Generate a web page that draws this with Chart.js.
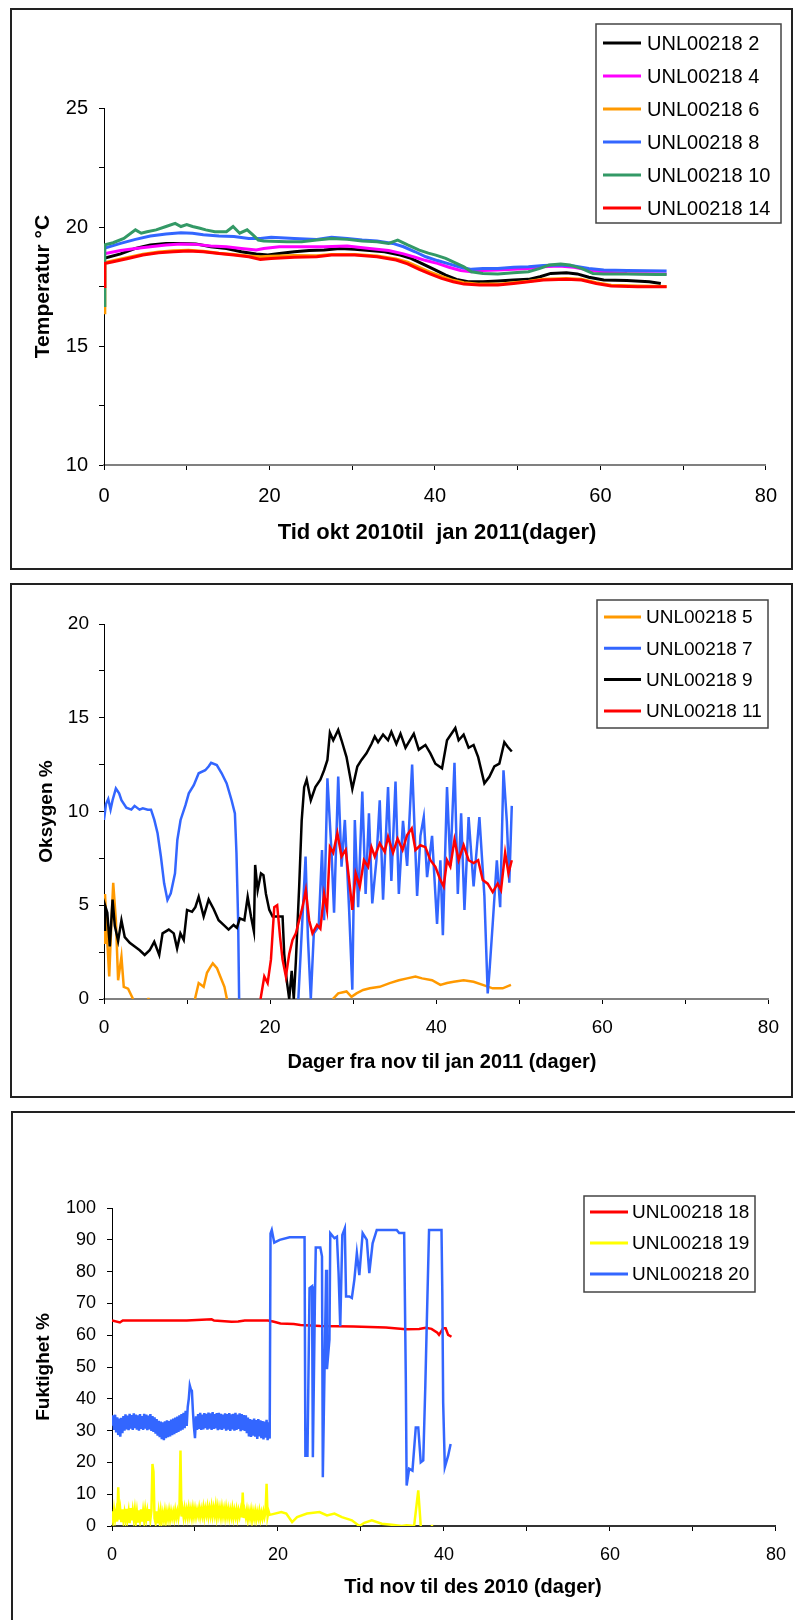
<!DOCTYPE html>
<html>
<head>
<meta charset="utf-8">
<script src="https://cdn.jsdelivr.net/npm/chart.js@4.4.0/dist/chart.umd.min.js"></script>
<style>
  body { margin: 0; background: #fff; overflow: hidden; width: 795px; height: 1620px; position: relative; }
  .box { position: absolute; border: 2px solid #222; box-sizing: border-box; background: #fff; }
  .box canvas { display: block; }
</style>
</head>
<body>
<div class="box" style="left:10px;top:8px;width:783px;height:562px"><canvas id="temp" width="779" height="558"></canvas></div>
<div class="box" style="left:10px;top:583px;width:783px;height:515px"><canvas id="oxy" width="779" height="511"></canvas></div>
<div class="box" style="left:11px;top:1111px;width:790px;height:535px"><canvas id="hum" width="786" height="531"></canvas></div>
<script>
// ---- Temperatur (okt 2010 - jan 2011) ----
const tempLabels = ['UNL00218 2', 'UNL00218 4', 'UNL00218 6', 'UNL00218 8', 'UNL00218 10', 'UNL00218 14'];

const days2 = [0,2,3.8,5.6,7.5,9.3,11.1,12.9,14.8,16.6,18.4,19.8,21.2,23,24.8,26.6,28.5,30.3,32.1,33.9,35.8,37.1,38.5,39.9,41.3,42.6,44,45.8,47.6,49.5,51.3,52.7,54,55.9,57.2,58.6,60.4,63.2,65.9,67.3];
const temp2 = [18.68,18.87,19.1,19.24,19.31,19.31,19.29,19.17,19.1,18.96,18.87,18.82,18.89,18.96,19.01,19.03,19.1,19.06,19.01,18.96,18.82,18.68,18.45,18.22,17.98,17.8,17.7,17.7,17.73,17.77,17.8,17.91,18.05,18.08,18.03,17.89,17.77,17.75,17.7,17.63];

const days4 = [0,2,3.8,5.6,7.5,9.3,11.1,12.9,14.8,16.6,18.4,19.3,21.2,23.9,26.6,29.4,32.1,34.4,36.2,37.6,38.9,40.3,41.7,43.1,44.4,45.8,47.6,49.5,51.3,53.1,55,56.8,58.6,60.4,63.2,68];
const temp4 = [18.87,19.01,19.1,19.17,19.24,19.29,19.27,19.2,19.17,19.1,19.03,19.1,19.17,19.17,19.17,19.2,19.1,19.01,18.87,18.73,18.59,18.47,18.31,18.17,18.12,18.17,18.19,18.22,18.26,18.33,18.36,18.31,18.19,18.11,18.05,18.03];

const days6 = [0,0.1,1.1,2.9,4.7,6.6,8.4,10.2,12,13.9,15.7,17.5,18.9,20.2,23,25.7,27.5,30.3,33,35.3,36.7,38.1,39.4,40.8,42.2,43.5,45.4,47.6,49.5,51.3,53.1,55.9,57.7,59.5,61.3,64.5,68];
const temp6 = [16.4,18.5,18.58,18.72,18.86,18.95,19.0,19.02,18.98,18.9,18.84,18.78,18.75,18.77,18.8,18.79,18.84,18.84,18.78,18.66,18.52,18.3,18.1,17.92,17.76,17.66,17.6,17.6,17.66,17.72,17.8,17.84,17.8,17.66,17.55,17.52,17.5];

const days8 = [0,2,3.8,5.6,7.5,9.3,10.7,12,13.9,15.7,17.5,18.9,20.2,23,25.7,27.5,29.4,31.2,33,34.9,36.2,37.6,38.9,40.3,41.7,43.1,44.4,45.8,47.6,49.5,51.3,53.1,55,56.8,58.6,60.4,63.2,68];
const temp8 = [19.1,19.31,19.48,19.62,19.71,19.76,19.74,19.67,19.62,19.6,19.52,19.52,19.57,19.52,19.48,19.57,19.52,19.45,19.41,19.31,19.17,18.96,18.75,18.59,18.45,18.31,18.22,18.26,18.26,18.31,18.33,18.38,18.4,18.36,18.26,18.19,18.17,18.15];

const days10 = [0,0.1,1.1,2.4,3.8,4.5,5.2,6.3,7.5,8.6,9.3,10,10.7,11.6,12.3,13.4,14.8,15.6,16.4,17.3,18,18.65,19.3,22.1,23.9,25.7,27.5,29.4,31.2,33,34.4,35.5,36.7,38.1,39.2,40.1,41.3,42.4,43.5,44.4,45.8,47.6,49.5,51.3,52.7,53.8,55.2,56.3,57.7,59.1,60.4,63.2,66.8,68];
const temp10 = [16.7,19.25,19.34,19.52,19.88,19.74,19.8,19.88,20.02,20.15,20.02,20.1,20.02,19.95,19.88,19.8,19.8,20.02,19.74,19.88,19.67,19.45,19.41,19.38,19.38,19.45,19.52,19.48,19.41,19.38,19.31,19.45,19.25,19.03,18.9,18.82,18.68,18.5,18.33,18.12,18.05,18.03,18.08,18.12,18.26,18.4,18.45,18.4,18.26,18.05,18.03,18.03,18.0,18.0];

const days14 = days6;
const temp14 = [17.5,18.47,18.54,18.68,18.82,18.92,18.96,18.99,18.96,18.89,18.82,18.75,18.64,18.68,18.73,18.75,18.82,18.82,18.75,18.61,18.45,18.22,18.03,17.84,17.7,17.6,17.56,17.56,17.63,17.7,17.77,17.8,17.77,17.63,17.52,17.49,17.49];

// ---- Oksygen (nov - jan 2011) ----
const oxyLabels = ['UNL00218 5', 'UNL00218 7', 'UNL00218 9', 'UNL00218 11'];

const days5 = [0,0.12,0.32,0.63,0.9,1.11,1.43,1.7,2.1,2.38,2.9,3.5,4.3,5.2,5.5,8,10.95,11.4,12.0,12.4,12.8,13.1,13.6,14.0,14.5,14.8,20,27.55,28.2,29.2,29.8,30.4,31.2,32.0,33.2,34.4,35.5,36.5,37.5,38.3,39.5,40.5,41.3,42.1,43.3,44.5,45.6,46.8,48.0,49.0];
const oxy5 = [3.0,5.6,3.7,1.2,4.2,6.2,4.2,1.0,2.25,0.65,0.55,0,null,0,0,null,0,0.85,0.65,1.4,1.7,1.9,1.65,1.2,0.65,0,null,0,0.3,0.4,0.12,0.3,0.48,0.57,0.65,0.85,1.0,1.1,1.2,1.1,1.0,0.75,0.85,0.92,1.0,0.92,0.75,0.57,0.57,0.75];

const days7 = [0,0.24,0.51,0.79,1.03,1.43,1.82,2.1,2.69,3.29,3.68,4.28,4.67,5.27,5.66,6.06,6.45,6.85,7.24,7.64,8.04,8.55,8.83,9.22,9.82,10.21,10.81,11.4,12.19,12.59,12.9,13.58,14.17,14.77,15.36,15.76,15.95,16.15,16.27,
  20,
  23.4,24.27,24.55,24.9,25.26,25.85,26.25,26.5,26.9,27.4,27.7,28.2,28.6,29.0,29.5,29.9,30.2,30.6,31.1,31.5,31.9,32.3,32.8,33.2,33.6,34.2,34.6,35.1,35.5,36.0,36.5,37.1,37.7,38.1,38.5,38.9,39.5,40.1,40.5,40.8,41.3,41.7,42.2,42.6,43.0,43.4,43.9,44.5,45.2,45.8,46.2,46.4,46.8,47.3,47.7,48.1,48.5,48.8,49.1];
const oxy7 = [9.55,10.4,10.67,10.1,10.6,11.23,10.97,10.6,10.2,10.1,10.3,10.1,10.17,10.1,10.1,9.55,8.84,7.6,6.17,5.28,5.64,6.7,8.48,9.55,10.35,10.97,11.4,12.04,12.2,12.4,12.6,12.48,12.04,11.5,10.6,9.9,7.77,4.2,0,
  null,
  0,7.6,3.3,0,3.5,3.86,7.95,4.2,11.77,7.8,4.6,11.86,7.06,9.55,4.9,0.5,9.55,4.9,11.06,5.6,9.9,5.1,7.4,10.6,5.3,11.3,6.3,11.6,5.6,9.5,7.1,12.5,5.5,8.7,9.7,6.5,8.7,4.0,7.4,3.4,11.3,7.1,12.6,5.6,9.9,4.75,9.7,6.0,9.7,5.5,0.3,1.4,4.0,7.4,4.9,12.2,9.5,6.2,10.3];

const days9 = [0,0.12,0.4,0.7,1.03,1.3,1.7,2.1,2.5,3.1,3.7,4.3,4.9,5.5,6.05,6.65,7.05,7.8,8.4,8.8,9.2,9.6,10.0,10.6,11.0,11.4,12.0,12.6,13.2,13.8,14.4,15.0,15.6,16.0,16.35,16.9,17.3,17.7,18.05,18.2,18.5,18.9,19.2,19.5,19.9,20.3,21.1,21.5,21.7,22.0,22.3,22.6,22.85,23.1,23.5,23.8,24.1,24.4,24.9,25.45,26.05,26.5,26.9,27.2,27.6,28.2,28.6,29.2,29.9,30.5,31.0,31.6,32.2,32.6,33.0,33.6,34.2,34.6,35.2,35.7,36.3,37.3,37.9,38.7,39.3,39.9,40.7,41.3,42.3,42.7,43.3,43.9,44.5,45.05,45.8,46.4,47.0,47.6,48.2,48.6,49.1];
const oxy9 = [3.7,5.0,4.6,2.8,5.3,3.9,3.1,4.2,3.3,3.0,2.8,2.6,2.35,2.6,3.05,2.35,3.5,3.7,3.5,2.7,3.5,3.15,4.75,4.65,4.9,5.45,4.4,5.3,4.8,4.2,3.95,3.7,3.95,3.8,4.3,4.2,5.45,4.4,3.6,7.15,5.8,6.7,6.6,5.6,4.75,4.4,4.4,4.4,2.4,1.0,0,1.5,0,2.0,6.0,9.5,11.3,11.7,10.6,11.3,11.7,12.2,12.75,14.2,13.8,14.35,13.8,12.9,11.2,12.4,12.75,13.1,13.6,14.0,13.7,14.1,13.8,14.25,13.6,14.15,13.4,14.15,13.3,13.55,13.1,12.55,12.3,13.8,14.45,13.8,14.1,13.4,13.55,12.9,11.5,11.85,12.4,12.55,13.7,13.45,13.2];

const days11 = [18.85,19.3,19.7,20.1,20.5,20.85,21.2,21.5,21.9,22.3,22.7,23.1,23.5,23.9,24.3,24.7,25.1,25.65,26.05,26.5,26.85,27.2,27.6,28.1,28.6,29.1,29.6,29.9,30.3,30.8,31.3,31.8,32.2,32.6,33.2,33.8,34.2,34.8,35.35,35.95,36.5,37.05,37.5,38.1,38.7,39.3,39.9,40.5,40.9,41.3,41.7,42.2,42.7,43.3,43.9,44.5,45.05,45.6,46.2,46.8,47.4,47.8,48.3,48.7,49.1];
const oxy11 = [0,1.2,0.85,2.1,4.9,5.0,3.3,2.1,1.2,2.4,3.15,3.5,4.2,4.9,5.8,4.2,3.5,3.95,3.75,5.6,4.75,8.1,7.8,8.85,7.6,7.95,6.0,4.75,6.7,6.0,7.4,7.05,8.1,7.6,8.3,7.85,8.65,7.8,8.55,7.95,8.75,9.1,7.95,8.2,8.1,7.4,7.05,6.35,6.0,7.4,7.05,8.5,7.4,8.2,7.4,7.25,7.4,6.35,6.15,5.7,6.15,5.8,7.8,6.7,7.4];

// ---- Fuktighet (nov - des 2010) ----
const humLabels = ['UNL00218 18', 'UNL00218 19', 'UNL00218 20'];

const days18 = [0,0.95,1.3,3,6,9,12.0,12.3,14.4,15.2,16,18.8,19.4,20.3,21.9,22.7,25.1,29.1,33.0,35.4,37.0,37.8,38.5,39.2,39.4,39.9,40.2,40.5,40.9];
const hum18 = [64.6,64.0,64.6,64.6,64.6,64.6,65.0,64.6,64.2,64.3,64.6,64.6,64.3,63.7,63.5,63.2,62.9,62.7,62.4,61.9,61.95,62.3,62.0,60.8,60.1,62.2,62.2,60.1,59.5];

// first 19 days are logged densely (noisy band)
const bandDays = [
  0,0.125,0.25,0.375,0.5,0.625,0.75,0.875,
  1,1.125,1.25,1.375,1.5,1.625,1.75,1.875,
  2,2.125,2.25,2.375,2.5,2.625,2.75,2.875,
  3,3.125,3.25,3.375,3.5,3.625,3.75,3.875,
  4,4.125,4.25,4.375,4.5,4.625,4.75,4.875,
  5,5.125,5.25,5.375,5.5,5.625,5.75,5.875,
  6,6.125,6.25,6.375,6.5,6.625,6.75,6.875,
  7,7.125,7.25,7.375,7.5,7.625,7.75,7.875,
  8,8.125,8.25,8.375,8.5,8.625,8.75,8.875,
  9,9.125,9.25,9.375,9.5,9.625,9.75,9.875,
  10,10.125,10.25,10.375,10.5,10.625,10.75,10.875,
  11,11.125,11.25,11.375,11.5,11.625,11.75,11.875,
  12,12.125,12.25,12.375,12.5,12.625,12.75,12.875,
  13,13.125,13.25,13.375,13.5,13.625,13.75,13.875,
  14,14.125,14.25,14.375,14.5,14.625,14.75,14.875,
  15,15.125,15.25,15.375,15.5,15.625,15.75,15.875,
  16,16.125,16.25,16.375,16.5,16.625,16.75,16.875,
  17,17.125,17.25,17.375,17.5,17.625,17.75,17.875,
  18,18.125,18.25,18.375,18.5,18.625,18.75,18.875,19
];

const days19 = bandDays.concat([20.4,21,21.7,22.3,23.5,25,25.9,26.8,27.7,28.9,29.8,30.4,31.3,32.5,33.7,34.9,35.5,36.4,36.9,37.2,37.8,38.4,38.7]);
const hum19 = [
  4.6,1.8,5.0,2.2,4.4,1.4,12.2,2.0,
  4.8,1.2,5.2,2.0,4.2,1.6,5.4,2.4,
  4.6,0.9,5.6,1.8,4.8,2.2,5.0,1.5,
  4.4,1.1,4.9,2.0,5.2,1.4,4.6,1.8,
  5.0,2.2,4.5,1.6,5.3,2.0,4.8,19.5,
  17.0,2.4,1.0,4.6,0.8,4.2,1.2,4.5,
  1.6,4.0,2.0,4.6,1.8,4.3,2.3,4.7,
  2.2,4.5,2.6,4.4,2.4,4.9,2.8,4.6,
  2.6,5.0,23.7,3.0,5.2,2.8,5.4,3.0,
  5.1,2.9,5.6,3.2,5.2,2.8,5.5,3.1,
  5.3,3.0,5.0,3.4,5.6,3.1,5.2,3.3,
  5.7,3.0,5.4,3.6,5.9,3.2,5.5,3.4,
  6.0,3.3,5.6,3.5,6.2,3.1,5.8,3.4,
  5.5,3.0,5.7,3.2,5.3,2.9,5.6,3.1,
  5.2,2.8,5.0,3.0,5.4,2.7,4.9,3.0,
  5.1,2.6,4.8,3.1,5.0,2.7,10.5,2.5,
  4.6,2.8,4.9,2.2,4.5,2.6,4.8,2.0,
  4.4,2.5,4.6,2.2,4.3,2.6,4.7,2.3,
  4.2,2.5,4.5,2.8,4.4,13.3,3.0,4.6,3.5,
  4.4,3.9,1.25,2.8,3.9,4.4,3.3,3.9,2.8,1.8,0,1.0,1.8,0.7,0.4,0,0.2,0,11.2,0,null,0,0
];

const days20 = bandDays.concat([19.1,19.25,19.55,20.2,21.4,23.2,23.3,23.55,23.8,24.1,24.2,24.45,24.55,25.1,25.3,25.4,25.8,25.9,26.2,26.3,26.8,27.1,27.3,27.5,27.75,28.05,28.2,28.6,28.9,29.2,29.5,29.8,30.2,30.7,31.0,31.4,31.9,34.3,34.6,35.2,35.4,35.5,35.8,36.2,36.6,36.9,37.2,37.5,37.75,37.9,38.2,39.7,39.8,39.9,40.1,40.5,40.8]);
const hum20 = [
  31.5,34.8,30.2,35.0,29.4,34.2,28.6,33.8,
  28.1,34.0,29.2,34.6,30.0,35.1,30.4,34.7,
  30.1,35.3,30.6,34.9,30.2,35.4,30.8,35.0,
  30.3,34.8,30.0,35.2,30.5,34.6,30.2,35.3,
  30.6,35.0,30.1,34.7,30.4,35.2,29.9,34.6,
  29.6,34.2,29.0,33.6,28.4,33.1,27.9,32.8,
  27.3,32.6,27.0,32.9,27.6,33.2,27.9,33.0,
  28.2,33.5,28.6,33.8,28.9,34.1,29.3,34.4,
  29.6,34.8,30.0,35.2,30.3,35.6,30.8,36.2,
  31.5,37.5,40.0,44.2,43.0,42.5,36.0,31.0,
  27.6,34.5,30.2,35.2,30.5,35.6,30.2,35.0,
  30.4,35.5,30.8,35.3,30.3,35.7,30.6,35.4,
  30.2,35.8,30.5,35.2,30.7,35.5,30.1,35.6,
  30.4,35.3,30.2,35.0,30.6,35.4,30.0,35.2,
  30.3,35.5,29.9,35.1,30.4,35.3,30.0,35.6,
  30.2,35.0,30.5,35.4,29.8,35.2,30.1,34.9,
  29.9,34.8,29.2,34.1,28.2,33.6,28.0,33.4,
  28.4,33.8,28.1,33.3,27.4,33.6,28.2,33.2,
  27.6,33.0,27.2,32.8,27.8,33.4,27.0,32.6,27.5,
  92.0,93.1,89.1,90.0,90.8,90.8,22.1,22.1,74.8,75.4,21.6,71.2,87.6,87.6,84.8,15.3,80.6,49.3,58.7,92.1,90.5,91.0,79.5,62.8,91.5,93.6,72.2,72.2,71.7,77.5,85.8,78.9,92.1,90.0,79.5,88.9,93.1,93.1,92.1,92.1,46.1,12.7,18.0,17.4,31.0,31.0,20.0,20.6,44.1,60.8,93.1,93.1,72.8,38.8,18.5,22.1,25.8
];

const FONT = '"Liberation Sans", Arial, Helvetica, sans-serif';
Chart.defaults.font.family = FONT;
Chart.defaults.color = '#000';

function pts(days, vals) {
  return days.map((d, i) => ({ x: d, y: vals[i] }));
}

// legend drawn as a framed box, like the spreadsheet original
const boxLegend = {
  id: 'boxLegend',
  afterDraw(chart, args, o) {
    const ctx = chart.ctx;
    ctx.save();
    ctx.fillStyle = '#fff';
    ctx.fillRect(o.x, o.y, o.w, o.h);
    ctx.strokeStyle = '#444';
    ctx.lineWidth = 1.5;
    ctx.strokeRect(o.x, o.y, o.w, o.h);
    ctx.font = o.size + 'px ' + FONT;
    ctx.textBaseline = 'middle';
    ctx.textAlign = 'left';
    chart.data.datasets.forEach((ds, i) => {
      const y = o.first + i * o.gap;
      ctx.strokeStyle = ds.borderColor;
      ctx.lineWidth = 3;
      ctx.beginPath();
      ctx.moveTo(o.lineX0, y);
      ctx.lineTo(o.lineX1, y);
      ctx.stroke();
      ctx.fillStyle = '#000';
      ctx.fillText(ds.label, o.textX, y + 1);
    });
    ctx.restore();
  }
};

// x axis title: the original sits it a little off the axis centre in one chart
const xTitle = {
  id: 'xTitle',
  afterDraw(chart, args, o) {
    const ctx = chart.ctx;
    ctx.save();
    ctx.font = 'bold ' + o.size + 'px ' + FONT;
    ctx.fillStyle = '#000';
    ctx.textAlign = 'center';
    ctx.textBaseline = 'middle';
    ctx.fillText(o.text, o.x, o.y);
    ctx.restore();
  }
};

function makeChart(id, sets, s) {
  const canvas = document.getElementById(id);
  const W = canvas.width, H = canvas.height;
  const yLh = s.yTitleSize * 1.2;
  return new Chart(canvas, {
    type: 'line',
    data: {
      datasets: sets.map((d, i) => ({
        label: d.label,
        data: d.data,
        borderColor: d.color,
        backgroundColor: d.color,
        borderWidth: s.lineW,
        pointRadius: 0,
        tension: 0,
        fill: false,
        order: sets.length - i
      }))
    },
    options: {
      responsive: false,
      animation: false,
      events: [],
      layout: { padding: { left: 0, top: s.plot.top, right: W - s.plot.right, bottom: 0 } },
      plugins: {
        legend: { display: false },
        tooltip: { enabled: false },
        boxLegend: s.legend,
        xTitle: s.xTitle
      },
      scales: {
        x: {
          type: 'linear', min: 0, max: 80,
          afterFit: sc => { sc.height = H - s.plot.bottom; },
          ticks: { stepSize: 10, autoSkip: false, maxRotation: 0, padding: s.xPad,
                   font: { size: s.tickSize }, color: '#000',
                   callback: v => (v % 20 === 0 ? v : '') },
          grid: { drawOnChartArea: false, drawTicks: true, tickLength: 5, color: '#000' },
          border: { display: true, color: s.xAxisColor, width: 2 }
        },
        y: {
          min: s.yMin, max: s.yMax,
          afterFit: sc => { sc.width = s.plot.left; },
          ticks: { stepSize: s.yStep, autoSkip: false, padding: s.yPad,
                   font: { size: s.tickSize }, color: '#000',
                   callback: v => (v % s.yLabelEvery === 0 ? v : '') },
          grid: { drawOnChartArea: false, drawTicks: true, tickLength: 5, color: '#000' },
          border: { display: true, color: '#000', width: 1 },
          title: { display: true, text: s.yTitle, color: '#000',
                   font: { size: s.yTitleSize, weight: 'bold' },
                   padding: { top: s.yTitleX - yLh / 2, bottom: 0 } }
        }
      }
    },
    plugins: [boxLegend, xTitle]
  });
}

makeChart('temp', [
  { label: tempLabels[0], color: '#000000', data: pts(days2, temp2) },
  { label: tempLabels[1], color: '#FF00FF', data: pts(days4, temp4) },
  { label: tempLabels[2], color: '#FF9900', data: pts(days6, temp6) },
  { label: tempLabels[3], color: '#3366FF', data: pts(days8, temp8) },
  { label: tempLabels[4], color: '#339966', data: pts(days10, temp10) },
  { label: tempLabels[5], color: '#FF0000', data: pts(days14, temp14) }
], {
  plot: { left: 92, right: 764, top: 98, bottom: 455 },
  yMin: 10, yMax: 25, yStep: 2.5, yLabelEvery: 5,
  tickSize: 20, xPad: 14, yPad: 11, lineW: 3, xAxisColor: '#808080',
  xTitle: { text: 'Tid okt 2010til  jan 2011(dager)', size: 22, x: 425, y: 523 },
  yTitle: 'Temperatur °C', yTitleSize: 21, yTitleX: 31,
  legend: { x: 584, y: 14, w: 185, h: 199, first: 33, gap: 33, lineX0: 591, lineX1: 629, textX: 635, size: 20 }
});

makeChart('oxy', [
  { label: oxyLabels[0], color: '#FF9900', data: pts(days5, oxy5) },
  { label: oxyLabels[1], color: '#3366FF', data: pts(days7, oxy7) },
  { label: oxyLabels[2], color: '#000000', data: pts(days9, oxy9) },
  { label: oxyLabels[3], color: '#FF0000', data: pts(days11, oxy11) }
], {
  plot: { left: 92, right: 765, top: 39, bottom: 414 },
  yMin: 0, yMax: 20, yStep: 2.5, yLabelEvery: 5,
  tickSize: 19, xPad: 12, yPad: 10, lineW: 2.5, xAxisColor: '#808080',
  xTitle: { text: 'Dager fra nov til jan 2011 (dager)', size: 20, x: 430, y: 477 },
  yTitle: 'Oksygen %', yTitleSize: 19, yTitleX: 35,
  legend: { x: 585, y: 15, w: 171, h: 128, first: 32, gap: 31.3, lineX0: 592, lineX1: 629, textX: 634, size: 19 }
});

makeChart('hum', [
  { label: humLabels[0], color: '#FF0000', data: pts(days18, hum18) },
  { label: humLabels[1], color: '#FFFF00', data: pts(days19, hum19) },
  { label: humLabels[2], color: '#3366FF', data: pts(days20, hum20) }
], {
  plot: { left: 99, right: 772, top: 95, bottom: 413 },
  yMin: 0, yMax: 100, yStep: 10, yLabelEvery: 10,
  tickSize: 18, xPad: 13, yPad: 11, lineW: 2.5, xAxisColor: '#333333',
  xTitle: { text: 'Tid nov til des 2010 (dager)', size: 20, x: 460, y: 474 },
  yTitle: 'Fuktighet %', yTitleSize: 19, yTitleX: 31,
  legend: { x: 571, y: 83, w: 171, h: 96, first: 99, gap: 31, lineX0: 577, lineX1: 615, textX: 619, size: 19 }
});
</script>
</body>
</html>
